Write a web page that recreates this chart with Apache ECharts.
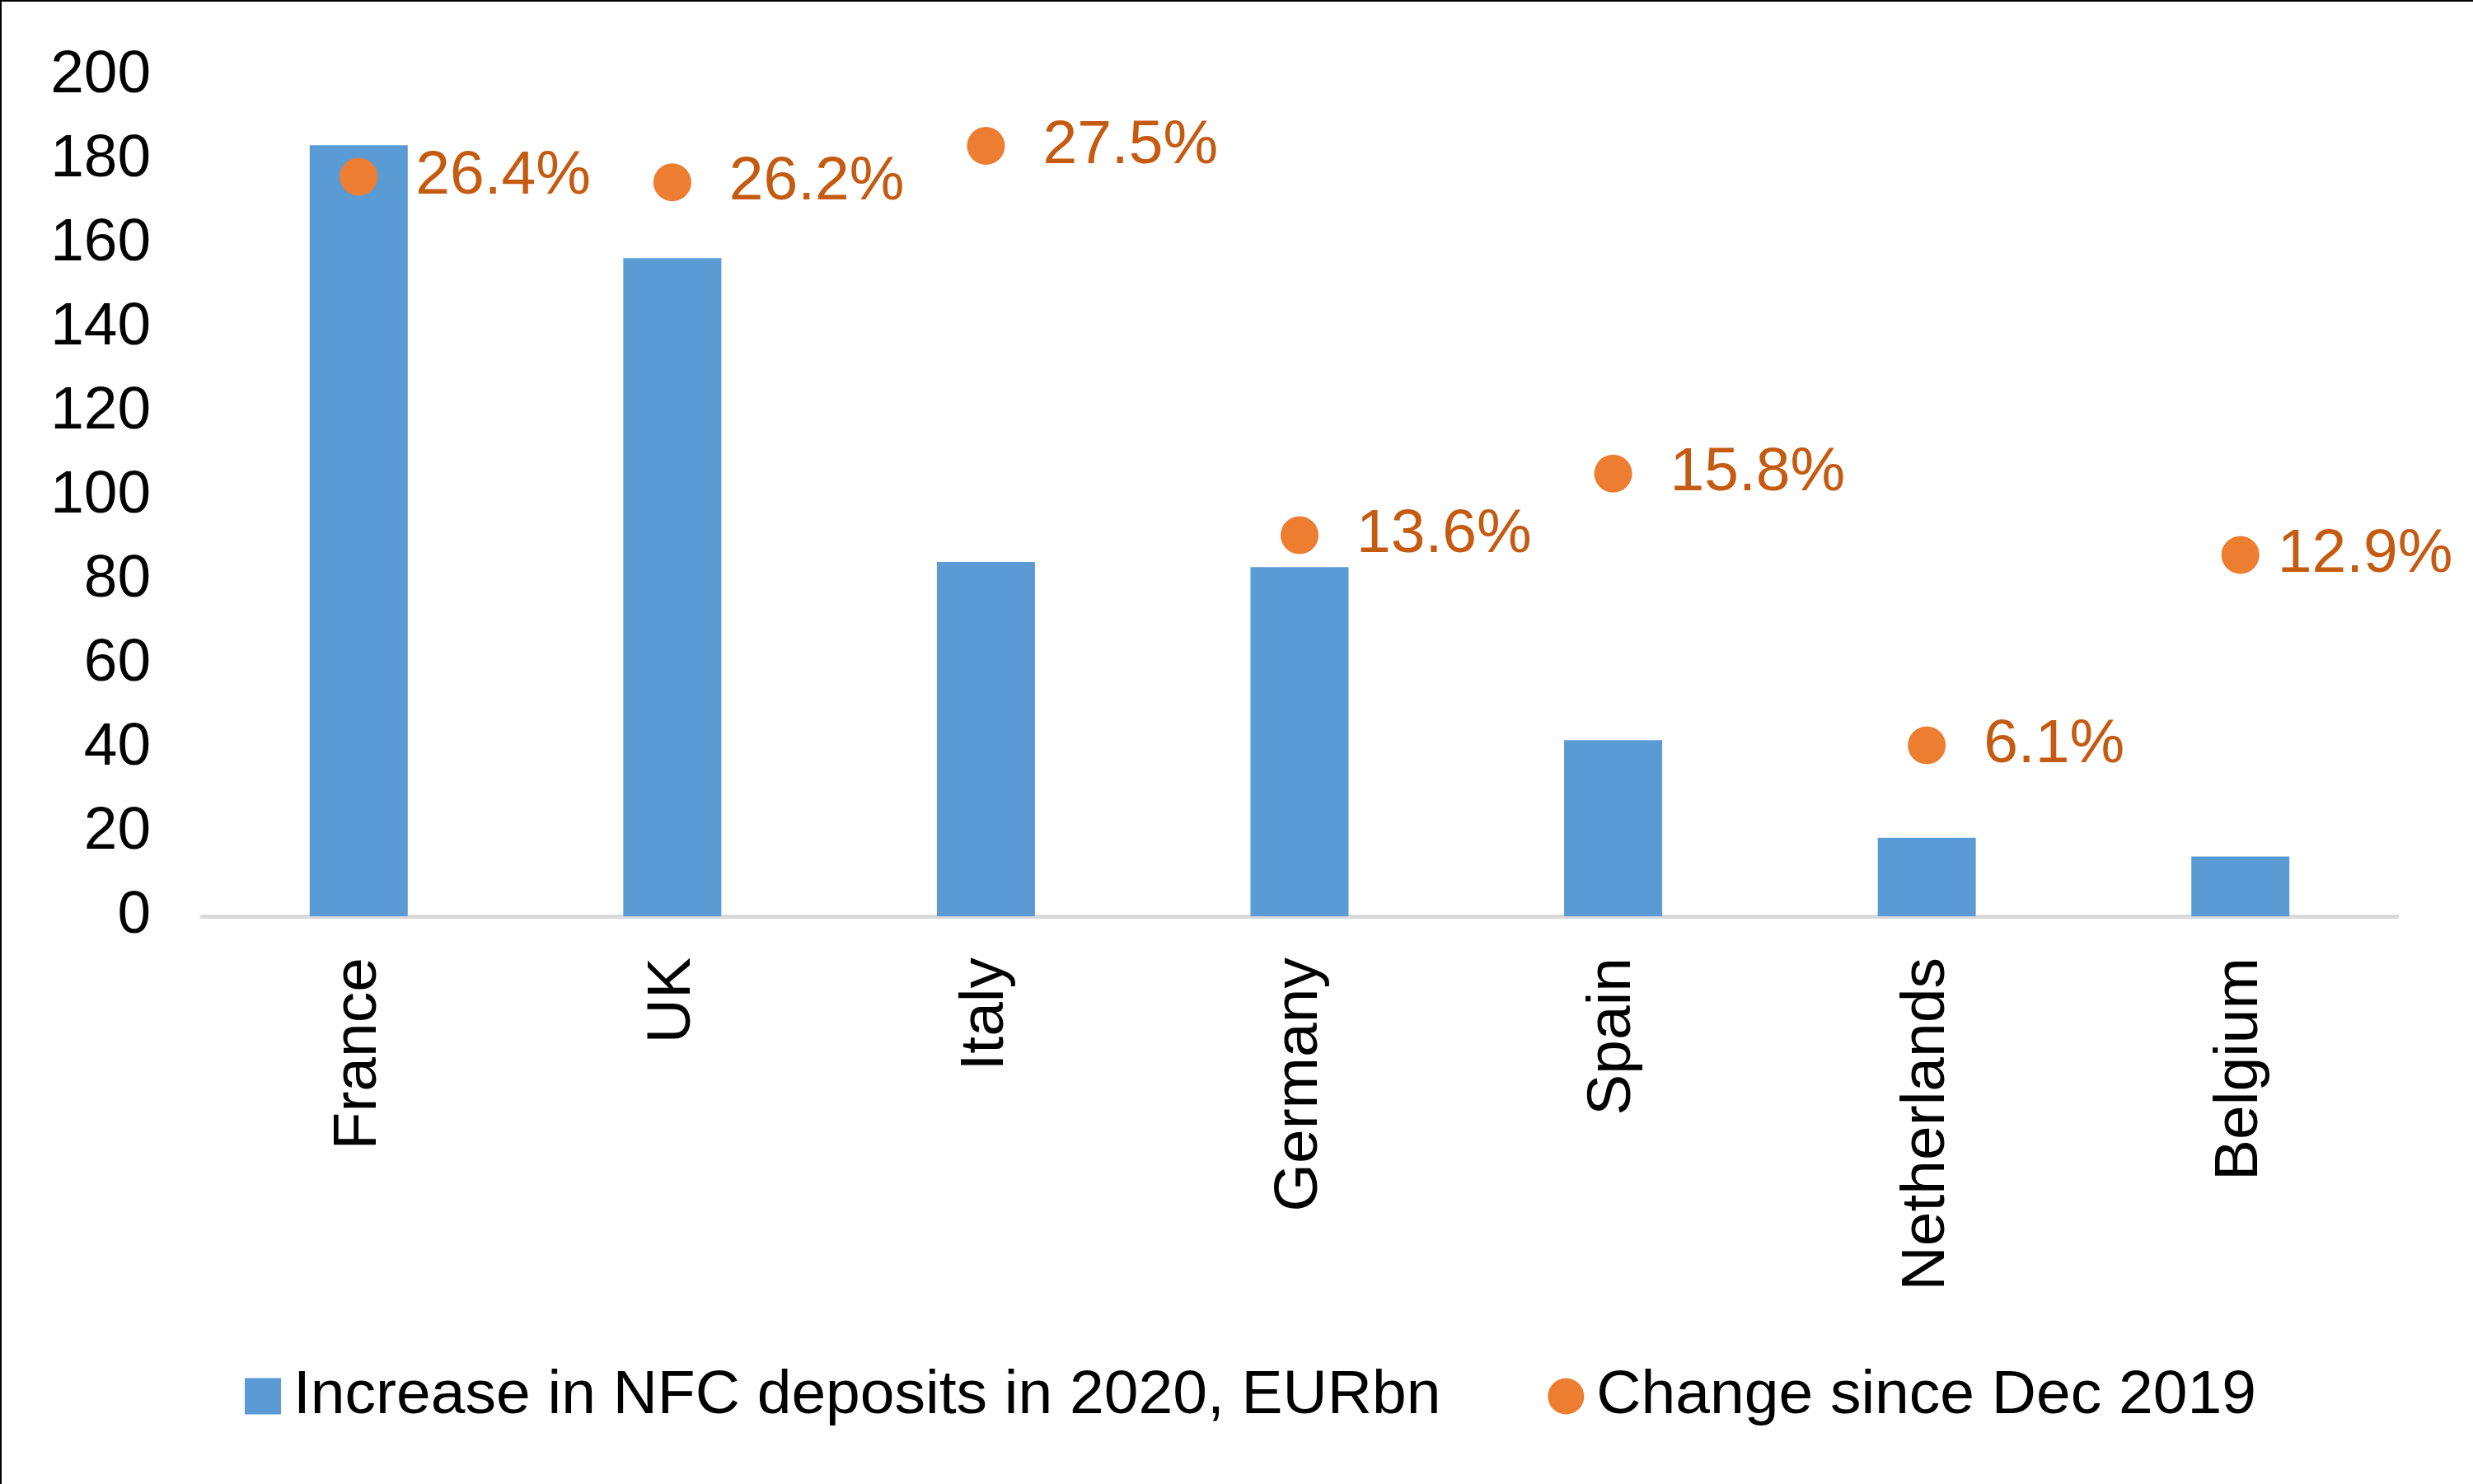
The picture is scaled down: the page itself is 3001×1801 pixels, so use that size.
<!DOCTYPE html>
<html>
<head>
<meta charset="utf-8">
<script src="https://cdn.jsdelivr.net/npm/echarts@6/dist/echarts.min.js"></script>
<style>
html,body{margin:0;padding:0;background:#fff;}
#c{width:3001px;height:1801px;box-sizing:border-box;border-left:2px solid #000;border-top:2px solid #000;}
</style>
</head>
<body>
<div id="c"></div>
<script>
const categories = ['France','UK','Italy','Germany','Spain','Netherlands','Belgium'];
const depositIncrease = [183.5, 156.6, 84.3, 83.1, 41.9, 18.7, 14.2];
const changeSinceDec2019 = [26.4, 26.2, 27.5, 13.6, 15.8, 6.1, 12.9];
const yTicks = [0, 20, 40, 60, 80, 100, 120, 140, 160, 180, 200];
const seriesNames = ['Increase in NFC deposits in 2020, EURbn', 'Change since Dec 2019'];

const FONT = 'Arial, "Liberation Sans", sans-serif';
const scatterData = changeSinceDec2019.map((v, i) =>
  categories[i] === 'Belgium' ? {value: v, label: {distance: 22}} : v);

const chart = echarts.init(document.getElementById('c'));
chart.setOption({
  animation: false,
  backgroundColor: '#fff',
  textStyle: {fontFamily: FONT},
  grid: {left: 243, right: 92, top: 90, bottom: 689, containLabel: false},
  legend: {
    left: 290, top: 1650,
    itemWidth: 44, itemHeight: 44, itemGap: 130,
    textStyle: {fontSize: 75, color: '#000', fontFamily: FONT, padding: [0,0,0,10]},
    data: [{name: seriesNames[0], icon: 'rect'}, {name: seriesNames[1], icon: 'circle'}]
  },
  xAxis: {
    type: 'category', data: categories,
    axisLine: {lineStyle: {color: '#D9D9D9', width: 5}},
    axisTick: {show: false},
    axisLabel: {rotate: 90, fontSize: 75, color: '#000', margin: 50, fontFamily: FONT}
  },
  yAxis: [{
    type: 'value', min: yTicks[0], max: yTicks[yTicks.length-1], interval: 20,
    axisLine: {show: false}, axisTick: {show: false}, splitLine: {show: false},
    axisLabel: {fontSize: 73, color: '#000', margin: 62, fontFamily: FONT}
  }, {
    type: 'value', min: 0, max: 30, show: false, splitLine: {show: false}
  }],
  series: [{
    name: seriesNames[0], type: 'bar', data: depositIncrease,
    barWidth: 119, itemStyle: {color: '#5B9BD5'}
  }, {
    name: seriesNames[1], type: 'scatter', yAxisIndex: 1, data: scatterData,
    symbol: 'circle', symbolSize: 46, itemStyle: {color: '#ED7D31', opacity: 1},
    label: {show: true, position: 'right', distance: 46, fontSize: 75, color: '#C55A11',
      fontFamily: FONT, formatter: p => Number(p.value).toFixed(1) + '%'}
  }]
});
</script>
</body>
</html>
